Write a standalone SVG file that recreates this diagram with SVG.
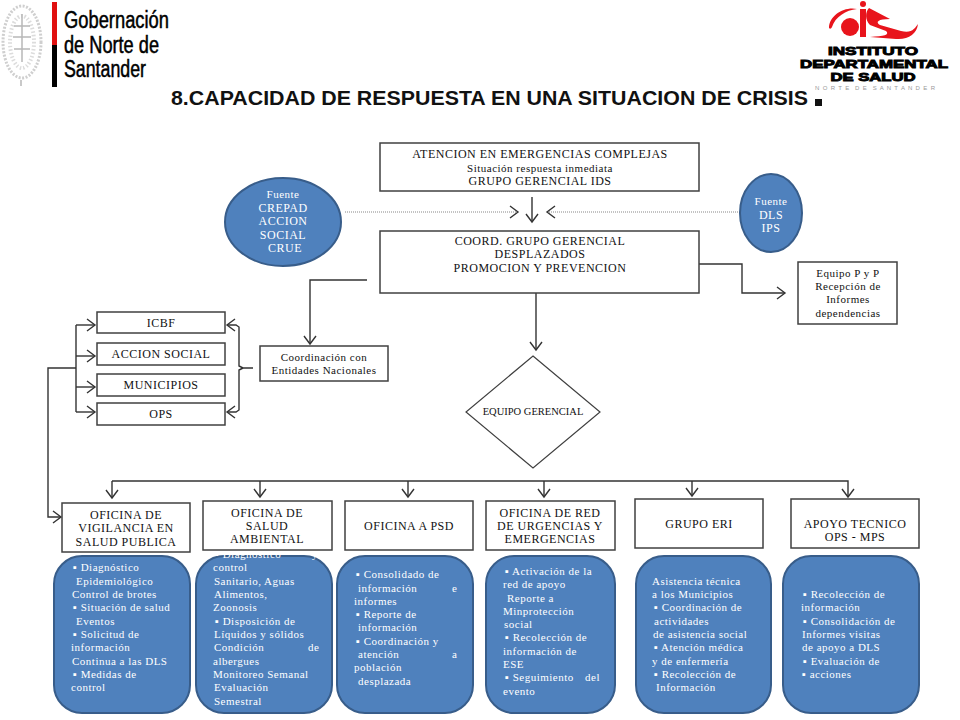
<svg xmlns="http://www.w3.org/2000/svg" width="960" height="720" viewBox="0 0 960 720">
<style>
.b{fill:#fff;stroke:#404040;stroke-width:1.5}
.bl{fill:#4f81bd;stroke:#385d8a;stroke-width:2}
text{font-family:"Liberation Serif","Times New Roman",serif;font-size:11px;letter-spacing:.5px}
.k{fill:#111}
.w{fill:#fff}
.m{text-anchor:middle}
.u{font-size:12px}
.c{fill:none;stroke:#333;stroke-width:1.4}
.d{fill:none;stroke:#888;stroke-width:1.2;stroke-dasharray:1 1}
.logo{font-family:"Liberation Sans",Arial,sans-serif;letter-spacing:0}
.gob{font-size:23px;stroke:#000;stroke-width:.5}
.ids{font-size:11px;font-weight:bold;stroke:#000;stroke-width:.9;text-anchor:middle}
</style>
<defs>
<marker id="a" markerUnits="userSpaceOnUse" markerWidth="14" markerHeight="14" refX="11" refY="6" orient="auto" overflow="visible"><path d="M3 0L11 6L3 12" fill="none" stroke="#333" stroke-width="1.4"/></marker>
</defs>
<rect width="960" height="720" fill="#fff"/>

<g id="logo-gobernacion">
<ellipse cx="22" cy="42" rx="19" ry="36" fill="none" stroke="#cfcfcf" stroke-width="3" stroke-dasharray="2 1.5"/>
<ellipse cx="22" cy="42" rx="12" ry="26" fill="none" stroke="#dcdcdc" stroke-width="4" stroke-dasharray="1.5 2"/>
<path d="M22 14V62M14 26H30M13 37H31M14 49H30M21 80V86" stroke="#b8b8b8" stroke-width="1.5" fill="none"/>
<rect x="52" y="2" width="5" height="43" fill="#e01010"/>
<rect x="52" y="45" width="5" height="42" fill="#000"/>
<text class="logo gob" x="64" y="28" textLength="105" lengthAdjust="spacingAndGlyphs">Gobernación</text>
<text class="logo gob" x="64" y="53" textLength="95" lengthAdjust="spacingAndGlyphs">de Norte de</text>
<text class="logo gob" x="64" y="77" textLength="82" lengthAdjust="spacingAndGlyphs">Santander</text>
</g>

<g id="logo-ids">
<circle cx="850" cy="27" r="9" fill="#e8141c"/>
<circle cx="863" cy="4" r="3" fill="#e8141c"/>
<path d="M829 28C829 15 845 6 857 9C846 10 835 17 832 27C831 29 830 29 829 28Z" fill="#e8141c"/>
<rect x="860" y="9" width="6" height="28" fill="#e8141c"/>
<path d="M869 8L890 19C878 19 875 22 880 25L901 31C912 34 915 28 918 24C917 34 908 40 896 39L870 37C884 36 890 35 886 31L870 25C865 20 865 12 869 8Z" fill="#e8141c"/>
<text class="logo ids" x="873" y="55" textLength="90" lengthAdjust="spacingAndGlyphs">INSTITUTO</text>
<text class="logo ids" x="874" y="68" textLength="148" lengthAdjust="spacingAndGlyphs">DEPARTAMENTAL</text>
<text class="logo ids" x="873" y="81" textLength="85" lengthAdjust="spacingAndGlyphs">DE SALUD</text>
<text class="logo" x="815" y="90" style="font-size:6px;fill:#999;white-space:pre" textLength="120">N O R T E  D E  S A N T A N D E R</text>
</g>

<g id="title">
<text class="logo" x="171" y="105" style="font-size:19.5px;font-weight:bold;fill:#111" textLength="637" lengthAdjust="spacingAndGlyphs">8.CAPACIDAD DE RESPUESTA EN UNA SITUACION DE CRISIS</text>
<rect x="815" y="99" width="7" height="7" fill="#111"/>
</g>

<g id="connectors">
<path class="d" d="M345 212H518" marker-end="url(#a)"/>
<path class="d" d="M740 212H547" marker-end="url(#a)"/>
<path class="c" d="M532 197V222" marker-end="url(#a)"/>
<path class="c" d="M367 280H310V344" marker-end="url(#a)"/>
<path class="c" d="M699 264H742V293H785" marker-end="url(#a)"/>
<path class="c" d="M536 293V350" marker-end="url(#a)"/>
<path class="c" d="M253 368H243L239 366V327L236 325H227" marker-end="url(#a)"/>
<path class="c" d="M243 368L239 370V410L236 412H227" marker-end="url(#a)"/>
<path class="c" d="M76 325H95" marker-end="url(#a)"/>
<path class="c" d="M76 356H95" marker-end="url(#a)"/>
<path class="c" d="M76 387H95" marker-end="url(#a)"/>
<path class="c" d="M76 412H95" marker-end="url(#a)"/>
<path class="c" d="M76 325V412"/>
<path class="c" d="M76 368H48V517H61" marker-end="url(#a)"/>
<path class="c" d="M112 481H848V497" marker-end="url(#a)"/>
<path class="c" d="M112 481V498" marker-end="url(#a)"/>
<path class="c" d="M260 481V497" marker-end="url(#a)"/>
<path class="c" d="M408 481V497" marker-end="url(#a)"/>
<path class="c" d="M544 481V497" marker-end="url(#a)"/>
<path class="c" d="M692 481V496" marker-end="url(#a)"/>
</g>

<g id="n-atencion"><rect class="b" x="380" y="143" width="319" height="48"/>
<text class="k m u" x="540" y="158">ATENCION  EN EMERGENCIAS COMPLEJAS</text>
<text class="k m" x="540" y="172">Situación respuesta inmediata</text>
<text class="k m u" x="540" y="185">GRUPO GERENCIAL IDS</text></g>

<g id="n-crepad"><ellipse class="bl" cx="283" cy="222" rx="58" ry="44"/>
<text class="w m" x="283" y="198">Fuente</text>
<text class="w m u" x="283" y="212">CREPAD</text>
<text class="w m u" x="283" y="225">ACCION</text>
<text class="w m u" x="283" y="239">SOCIAL</text>
<text class="w m u" x="285" y="252">CRUE</text></g>

<g id="n-dls"><ellipse class="bl" cx="771" cy="213" rx="31" ry="39"/>
<text class="w m" x="771" y="205">Fuente</text>
<text class="w m u" x="771" y="219">DLS</text>
<text class="w m u" x="771" y="232">IPS</text></g>

<g id="n-coord"><rect class="b" x="380" y="231" width="319" height="62"/>
<text class="k m u" x="540" y="245">COORD. GRUPO GERENCIAL</text>
<text class="k m u" x="540" y="258">DESPLAZADOS</text>
<text class="k m u" x="540" y="272">PROMOCION Y PREVENCION</text></g>

<g id="n-equipo-pp"><rect class="b" x="798" y="262" width="99" height="62"/>
<text class="k m" x="848" y="277">Equipo P y P</text>
<text class="k m" x="848" y="290">Recepción de</text>
<text class="k m" x="848" y="303">Informes</text>
<text class="k m" x="848" y="317">dependencias</text></g>

<g id="n-coordinacion"><rect class="b" x="260" y="346" width="128" height="35"/>
<text class="k m" x="324" y="361">Coordinación con</text>
<text class="k m" x="324" y="374">Entidades Nacionales</text></g>

<g id="n-icbf"><rect class="b" x="97" y="312" width="128" height="21"/><text class="k m u" x="161" y="327">ICBF</text></g>
<g id="n-accion"><rect class="b" x="97" y="343" width="128" height="22"/><text class="k m u" x="161" y="358">ACCION SOCIAL</text></g>
<g id="n-municipios"><rect class="b" x="97" y="374" width="128" height="22"/><text class="k m u" x="161" y="389">MUNICIPIOS</text></g>
<g id="n-ops"><rect class="b" x="97" y="403" width="128" height="22"/><text class="k m u" x="161" y="418">OPS</text></g>

<g id="n-equipo-gerencial"><path d="M533 356L600 412L533 468L466 412Z" fill="#fff" stroke="#404040" stroke-width="1.2"/>
<text class="k m" x="533" y="415" style="font-size:10.5px;letter-spacing:0">EQUIPO GERENCIAL</text></g>

<g id="n-vigilancia-body"><rect class="bl" x="54" y="556" width="136" height="157" rx="28"/>
<text class="w" x="73" y="571">▪ Diagnóstico</text>
<text class="w" x="76" y="585">Epidemiológico</text>
<text class="w" x="72" y="598">Control de brotes</text>
<text class="w" x="73" y="611">▪ Situación de salud</text>
<text class="w" x="76" y="625">Eventos</text>
<text class="w" x="73" y="638">▪ Solicitud de</text>
<text class="w" x="71" y="651">información</text>
<text class="w" x="72" y="665">Continua a las DLS</text>
<text class="w" x="73" y="678">▪ Medidas de</text>
<text class="w" x="71" y="691">control</text></g>
<g id="n-vigilancia"><rect class="b" x="62" y="503" width="128" height="49"/>
<text class="k m u" x="126" y="519">OFICINA DE</text>
<text class="k m u" x="126" y="532">VIGILANCIA EN</text>
<text class="k m u" x="126" y="546">SALUD PUBLICA</text></g>

<g id="n-ambiental-body"><rect class="bl" x="196" y="556" width="136" height="157" rx="28"/>
<text class="w" x="215" y="558">▪ Diagnóstico</text><text class="w" x="312" y="558">y</text>
<text class="w" x="213" y="571">control</text>
<text class="w" x="214" y="585">Sanitario, Aguas</text>
<text class="w" x="214" y="598">Alimentos,</text>
<text class="w" x="213" y="611">Zoonosis</text>
<text class="w" x="215" y="625">▪ Disposición de</text>
<text class="w" x="214" y="638">Líquidos y sólidos</text>
<text class="w" x="214" y="651">Condición</text><text class="w" x="308" y="651">de</text>
<text class="w" x="213" y="665">albergues</text>
<text class="w" x="213" y="678">Monitoreo Semanal</text>
<text class="w" x="214" y="691">Evaluación</text>
<text class="w" x="214" y="705">Semestral</text></g>
<g id="n-ambiental"><rect class="b" x="203" y="501" width="129" height="49"/>
<text class="k m u" x="267" y="517">OFICINA DE</text>
<text class="k m u" x="267" y="530">SALUD</text>
<text class="k m u" x="267" y="543">AMBIENTAL</text></g>

<g id="n-apsd-body"><rect class="bl" x="337" y="556" width="136" height="157" rx="28"/>
<text class="w" x="356" y="578">▪ Consolidado de</text>
<text class="w" x="358" y="592">información</text><text class="w" x="452" y="592">e</text>
<text class="w" x="354" y="605">informes</text>
<text class="w" x="356" y="618">▪ Reporte de</text>
<text class="w" x="358" y="631">información</text>
<text class="w" x="356" y="645">▪ Coordinación y</text>
<text class="w" x="358" y="658">atención</text><text class="w" x="452" y="658">a</text>
<text class="w" x="354" y="671">población</text>
<text class="w" x="358" y="685">desplazada</text></g>
<g id="n-apsd"><rect class="b" x="345" y="501" width="128" height="49"/>
<text class="k m u" x="409" y="530">OFICINA A PSD</text></g>

<g id="n-red-body"><rect class="bl" x="486" y="556" width="129" height="157" rx="28"/>
<text class="w" x="505" y="575">▪ Activación de la</text>
<text class="w" x="503" y="588">red de apoyo</text>
<text class="w" x="507" y="602">Reporte a</text>
<text class="w" x="503" y="615">Minprotección</text>
<text class="w" x="504" y="628">social</text>
<text class="w" x="505" y="641">▪  Recolección de</text>
<text class="w" x="503" y="655">información de</text>
<text class="w" x="503" y="668">ESE</text>
<text class="w" x="505" y="681">▪ Seguimiento</text><text class="w" x="585" y="681">del</text>
<text class="w" x="503" y="695">evento</text></g>
<g id="n-red"><rect class="b" x="486" y="501" width="129" height="49"/>
<text class="k m u" x="550" y="517">OFICINA DE RED</text>
<text class="k m u" x="550" y="530">DE URGENCIAS Y</text>
<text class="k m u" x="550" y="543">EMERGENCIAS</text></g>

<g id="n-eri-body"><rect class="bl" x="636" y="556" width="135" height="157" rx="28"/>
<text class="w" x="652" y="585">Asistencia técnica</text>
<text class="w" x="652" y="598">a los Municipios</text>
<text class="w" x="654" y="611">▪ Coordinación de</text>
<text class="w" x="654" y="625">actividades</text>
<text class="w" x="653" y="638">de asistencia social</text>
<text class="w" x="654" y="651">▪ Atención médica</text>
<text class="w" x="652" y="665">y de enfermería</text>
<text class="w" x="654" y="678">▪ Recolección de</text>
<text class="w" x="656" y="691">Información</text></g>
<g id="n-eri"><rect class="b" x="635" y="499" width="128" height="49"/>
<text class="k m u" x="699" y="528">GRUPO ERI</text></g>

<g id="n-apoyo-body"><rect class="bl" x="783" y="556" width="136" height="157" rx="28"/>
<text class="w" x="803" y="598">▪ Recolección de</text>
<text class="w" x="801" y="611">información</text>
<text class="w" x="803" y="625">▪ Consolidación de</text>
<text class="w" x="802" y="638">Informes visitas</text>
<text class="w" x="802" y="651">de apoyo a  DLS</text>
<text class="w" x="803" y="665">▪ Evaluación de</text>
<text class="w" x="802" y="678">▪ acciones</text></g>
<g id="n-apoyo"><rect class="b" x="791" y="499" width="128" height="49"/>
<text class="k m u" x="855" y="528">APOYO TECNICO</text>
<text class="k m u" x="855" y="541">OPS - MPS</text></g>
</svg>
